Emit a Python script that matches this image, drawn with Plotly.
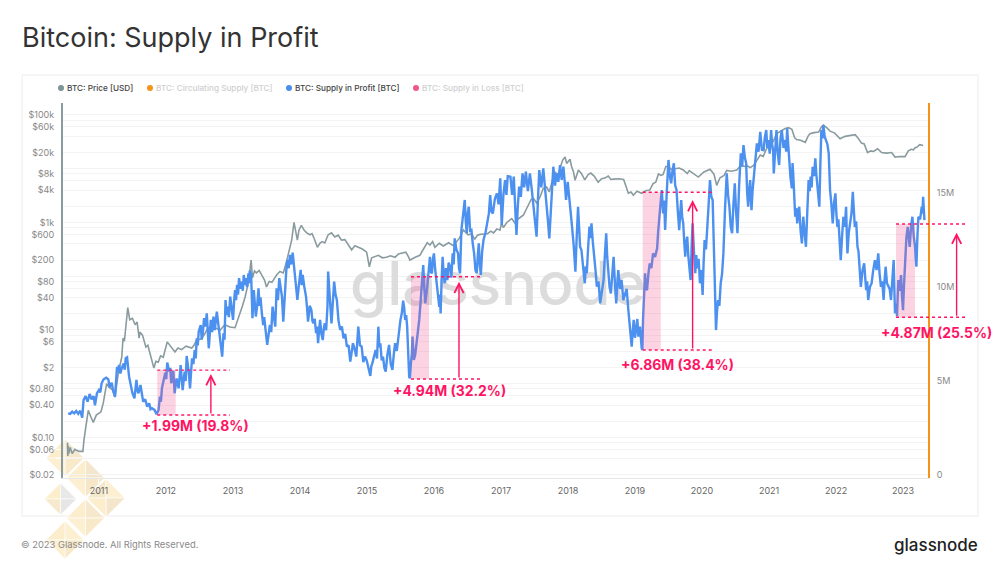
import pandas as pd
import plotly.graph_objects as go

# values: (decimal year, value)
price_usd_2010_14 = [
    (2010.53, 0.08), (2010.535, 0.045), (2010.54, 0.07), (2010.55, 0.05), (2010.57, 0.065), (2010.60, 0.05),
    (2010.64, 0.06), (2010.70, 0.055), (2010.76, 0.055), (2010.776, 0.09), (2010.816, 0.21), (2010.84, 0.32),
    (2010.88, 0.24), (2010.915, 0.19), (2010.96, 0.26), (2011.005, 0.285), (2011.03, 0.3), (2011.065, 0.44),
    (2011.09, 0.7), (2011.115, 1.0), (2011.14, 0.9), (2011.165, 0.83), (2011.20, 0.78), (2011.24, 0.56),
    (2011.29, 1.6), (2011.34, 3.1), (2011.36, 7.1), (2011.38, 6.2), (2011.40, 11), (2011.43, 26), (2011.46, 15.5),
    (2011.50, 16.5), (2011.54, 12.5), (2011.57, 14), (2011.60, 7), (2011.61, 9.1), (2011.65, 8), (2011.70, 4.8),
    (2011.73, 5.2), (2011.76, 3.7), (2011.79, 2.9), (2011.82, 1.95), (2011.85, 2.6), (2011.885, 2.5), (2011.92, 3.3),
    (2011.96, 3.1), (2012.02, 6), (2012.05, 5.3), (2012.085, 4.8), (2012.11, 4.3), (2012.135, 3.9), (2012.18, 4.6),
    (2012.235, 4.3), (2012.30, 5), (2012.385, 4.6), (2012.42, 5.2), (2012.46, 6.5), (2012.52, 6.8), (2012.57, 8),
    (2012.62, 10.5), (2012.68, 11.8), (2012.73, 11), (2012.81, 10), (2012.88, 12.5), (2012.955, 11.3),
    (2013.03, 11), (2013.06, 14), (2013.10, 21), (2013.14, 28), (2013.18, 41), (2013.23, 77), (2013.27, 200),
    (2013.29, 93), (2013.32, 125), (2013.35, 115), (2013.39, 128), (2013.43, 105), (2013.47, 85), (2013.50, 63),
    (2013.54, 80), (2013.58, 77), (2013.62, 95), (2013.65, 105), (2013.70, 122), (2013.75, 115), (2013.79, 170),
    (2013.825, 270), (2013.875, 470), (2013.91, 1000), (2013.94, 680), (2013.96, 470), (2013.985, 725),
    (2014.02, 880), (2014.06, 725), (2014.10, 640), (2014.15, 590), (2014.18, 620), (2014.21, 510), (2014.26, 345),
    (2014.30, 415), (2014.33, 440), (2014.37, 415), (2014.42, 590), (2014.47, 640), (2014.52, 535), (2014.57, 580),
    (2014.62, 470), (2014.67, 480), (2014.72, 380), (2014.77, 310), (2014.82, 370), (2014.87, 345), (2014.93, 320),
    (2014.995, 280), (2015.035, 150),
]

price_usd_2015_18 = [
    (2015.07, 220), (2015.12, 235), (2015.17, 245), (2015.23, 220), (2015.29, 225), (2015.35, 240), (2015.42, 225),
    (2015.47, 260), (2015.53, 270), (2015.58, 280), (2015.62, 230), (2015.64, 200), (2015.72, 225), (2015.79, 245),
    (2015.82, 285), (2015.85, 330), (2015.90, 420), (2015.94, 380), (2015.98, 440), (2016.015, 345), (2016.08, 410),
    (2016.14, 365), (2016.22, 420), (2016.29, 370), (2016.34, 450), (2016.38, 510), (2016.44, 725), (2016.48, 640),
    (2016.51, 590), (2016.56, 610), (2016.61, 490), (2016.65, 580), (2016.69, 600), (2016.75, 610), (2016.80, 620),
    (2016.85, 690), (2016.89, 640), (2016.94, 760), (2016.985, 720), (2017.01, 980), (2017.035, 800), (2017.085, 1000),
    (2017.16, 1180), (2017.21, 960), (2017.235, 1120), (2017.29, 1250), (2017.335, 1380), (2017.38, 1800), (2017.41, 2100),
    (2017.45, 2700), (2017.485, 2800), (2017.53, 2300), (2017.58, 2950), (2017.63, 4300), (2017.68, 4560), (2017.72, 3700),
    (2017.76, 5700), (2017.81, 8700), (2017.85, 7100), (2017.88, 10300), (2017.92, 14500), (2017.955, 16500),
    (2017.98, 12500), (2018.005, 13400), (2018.03, 15000), (2018.055, 10800), (2018.08, 8900), (2018.105, 6100),
    (2018.155, 9500), (2018.20, 8200), (2018.25, 6200),
]

price_usd_2019_23 = [
    (2018.30, 7800), (2018.34, 8300), (2018.39, 7300), (2018.45, 5600), (2018.50, 6500), (2018.55, 6700), (2018.60, 7300),
    (2018.64, 6300), (2018.68, 6400), (2018.76, 6500), (2018.83, 6300), (2018.87, 4500), (2018.90, 3500), (2018.94, 3700),
    (2018.975, 3200), (2019.03, 3800), (2019.10, 3500), (2019.16, 3900), (2019.22, 4000), (2019.27, 5300), (2019.31, 5600),
    (2019.35, 8000), (2019.39, 7500), (2019.42, 7800), (2019.46, 11000), (2019.50, 11000), (2019.54, 9800), (2019.60, 10000),
    (2019.66, 10300), (2019.72, 9500), (2019.78, 8100), (2019.81, 9200), (2019.87, 8000), (2019.945, 7000), (2020.03, 8700),
    (2020.12, 9800), (2020.18, 7900), (2020.22, 4900), (2020.27, 6800), (2020.33, 7500), (2020.37, 9300), (2020.44, 9000),
    (2020.52, 9500), (2020.58, 11500), (2020.64, 11000), (2020.67, 11500), (2020.72, 10500), (2020.77, 11500),
    (2020.815, 14000), (2020.87, 18000), (2020.915, 17000), (2020.96, 23000), (2021.015, 30000), (2021.06, 32000),
    (2021.115, 45000), (2021.17, 50000), (2021.24, 56000), (2021.29, 58000), (2021.34, 54000), (2021.38, 38000),
    (2021.41, 35000), (2021.47, 34000), (2021.54, 31000), (2021.58, 40000), (2021.61, 45000), (2021.67, 47000),
    (2021.74, 48000), (2021.78, 60000), (2021.81, 65000), (2021.86, 58000), (2021.91, 50000), (2021.98, 46000),
    (2022.06, 36000), (2022.135, 40000), (2022.2, 41000), (2022.285, 43000), (2022.33, 37000), (2022.38, 30000),
    (2022.42, 29000), (2022.47, 20000), (2022.52, 21500), (2022.56, 21000), (2022.62, 23500), (2022.68, 20000),
    (2022.75, 19500), (2022.83, 20000), (2022.88, 16500), (2022.95, 16900), (2023.03, 16800), (2023.08, 21500),
    (2023.12, 23000), (2023.155, 22500), (2023.18, 24500), (2023.205, 25000), (2023.25, 28000), (2023.30, 27000),
]

supply_in_profit_2010_14 = [
    (2010.54, 3.28), (2010.57, 3.25), (2010.60, 3.37), (2010.63, 3.28), (2010.66, 3.41), (2010.69, 3.25),
    (2010.72, 3.42), (2010.75, 3.05), (2010.77, 3.99), (2010.80, 4.2), (2010.83, 3.9), (2010.86, 4.31),
    (2010.89, 4.03), (2010.92, 4.2), (2010.94, 3.71), (2010.97, 4.35), (2011.00, 4.52), (2011.02, 4.4), (2011.04, 4.88),
    (2011.07, 5.09), (2011.11, 5.18), (2011.14, 5.09), (2011.16, 4.67), (2011.19, 4.91), (2011.21, 4.52),
    (2011.24, 4.17), (2011.27, 5.76), (2011.285, 5.5), (2011.30, 5.85), (2011.32, 5.4), (2011.34, 5.68), (2011.37, 5.94),
    (2011.385, 5.6), (2011.40, 6.21), (2011.42, 6.26), (2011.435, 5.6), (2011.45, 5.23), (2011.48, 4.70), (2011.50, 4.35),
    (2011.53, 4.08), (2011.56, 5.06), (2011.575, 4.5), (2011.59, 4.35), (2011.62, 4.79), (2011.64, 4.2), (2011.66, 3.90),
    (2011.69, 4.03), (2011.72, 3.64), (2011.75, 3.81), (2011.77, 3.5), (2011.79, 3.55), (2011.83, 3.46), (2011.86, 3.23),
    (2011.89, 3.46), (2011.91, 4.17), (2011.925, 3.9), (2011.94, 4.61), (2011.96, 4.97), (2011.99, 5.44), (2012.005, 5.1),
    (2012.02, 5.98), (2012.05, 5.5), (2012.065, 5.7), (2012.08, 4.88), (2012.11, 5.55), (2012.12, 5.0), (2012.13, 4.35),
    (2012.16, 5.14), (2012.175, 4.9), (2012.19, 4.61), (2012.22, 5.85), (2012.235, 5.0), (2012.25, 4.52), (2012.28, 5.50),
    (2012.295, 5.0), (2012.31, 6.33), (2012.34, 5.5), (2012.36, 4.61), (2012.39, 6.21), (2012.41, 5.9), (2012.43, 6.65),
    (2012.445, 6.2), (2012.46, 7.27), (2012.475, 6.9), (2012.49, 7.63), (2012.52, 7.98), (2012.535, 7.2), (2012.55, 7.54),
    (2012.57, 8.34), (2012.59, 7.9), (2012.61, 8.6), (2012.64, 6.74), (2012.67, 8.25), (2012.69, 7.6), (2012.71, 8.42),
    (2012.73, 7.71), (2012.76, 8.69), (2012.79, 7.8), (2012.82, 7.01), (2012.84, 6.3), (2012.86, 7.54), (2012.875, 7.2),
    (2012.89, 9.31), (2012.905, 8.5), (2012.92, 8.96), (2012.94, 8.4), (2012.96, 9.49), (2012.98, 8.78),
    (2013.0, 8.25), (2013.015, 9.2), (2013.03, 9.84), (2013.045, 9.3), (2013.06, 10.11), (2013.075, 9.6), (2013.09, 10.47),
    (2013.11, 9.9), (2013.13, 10.29), (2013.145, 9.8), (2013.16, 10.64), (2013.175, 10.1), (2013.19, 10.47), (2013.21, 10.0),
    (2013.23, 10.73), (2013.24, 10.2), (2013.25, 10.87), (2013.27, 10.64), (2013.29, 8.34), (2013.31, 9.84), (2013.325, 9.1),
    (2013.34, 8.43), (2013.36, 9.0), (2013.38, 9.93), (2013.395, 9.0), (2013.41, 9.45), (2013.43, 8.6), (2013.45, 7.98),
    (2013.465, 8.4), (2013.48, 7.72), (2013.495, 7.4), (2013.51, 6.92), (2013.53, 7.6), (2013.55, 7.98), (2013.57, 7.6),
    (2013.59, 8.96), (2013.61, 8.4), (2013.63, 7.89), (2013.65, 9.93), (2013.67, 9.3), (2013.69, 10.47), (2013.71, 9.8),
    (2013.73, 9.49), (2013.75, 8.16), (2013.78, 10.47), (2013.795, 10.9), (2013.81, 11.44), (2013.83, 11.0), (2013.85, 11.71),
    (2013.87, 11.2), (2013.89, 11.83), (2013.91, 11.1), (2013.93, 10.73), (2013.945, 10.0), (2013.96, 9.31), (2013.985, 10.2),
    (2014.01, 10.91), (2014.025, 10.1), (2014.04, 10.64), (2014.065, 10.0), (2014.09, 9.49), (2014.105, 8.9), (2014.12, 8.16),
    (2014.145, 9.0), (2014.17, 8.78), (2014.185, 8.2), (2014.20, 8.07), (2014.22, 8.3), (2014.24, 7.54), (2014.255, 7.9),
    (2014.27, 7.01), (2014.285, 7.7), (2014.30, 8.25), (2014.32, 7.5), (2014.34, 7.18), (2014.355, 7.8), (2014.37, 8.07),
    (2014.39, 7.7), (2014.41, 8.96), (2014.42, 10.82), (2014.435, 9.7), (2014.45, 9.14), (2014.47, 8.07), (2014.49, 9.4),
    (2014.51, 10.29), (2014.53, 9.6), (2014.55, 9.31), (2014.575, 8.2), (2014.60, 7.72), (2014.625, 7.9), (2014.65, 7.27),
    (2014.675, 7.5), (2014.70, 6.83), (2014.725, 6.9), (2014.75, 6.03), (2014.77, 6.5), (2014.79, 7.01), (2014.815, 6.7),
    (2014.84, 6.3), (2014.855, 7.1), (2014.87, 7.89), (2014.895, 6.9), (2014.92, 6.83), (2014.945, 6.0), (2014.97, 6.3),
]

supply_in_profit_2015_18 = [
    (2014.995, 6.1), (2015.02, 5.77), (2015.035, 5.5), (2015.05, 5.27), (2015.065, 5.8), (2015.08, 5.94), (2015.105, 6.3),
    (2015.13, 6.65), (2015.15, 6.2), (2015.17, 7.89), (2015.185, 6.8), (2015.20, 7.01), (2015.22, 6.1), (2015.24, 6.30),
    (2015.26, 5.7), (2015.28, 5.50), (2015.305, 6.4), (2015.33, 6.92), (2015.355, 5.9), (2015.38, 5.59), (2015.40, 6.4),
    (2015.42, 7.01), (2015.445, 6.6), (2015.47, 7.54), (2015.485, 7.9), (2015.50, 8.25), (2015.52, 8.6), (2015.54, 9.28),
    (2015.555, 8.9), (2015.57, 8.25), (2015.585, 8.5), (2015.60, 7.89), (2015.63, 5.23), (2015.64, 5.14), (2015.655, 5.9),
    (2015.67, 6.47), (2015.68, 7.36), (2015.70, 6.12), (2015.72, 6.4), (2015.74, 7.0), (2015.76, 7.6), (2015.78, 8.25),
    (2015.80, 9.2), (2015.82, 10.37), (2015.84, 11.17), (2015.855, 10.0), (2015.87, 9.13), (2015.90, 10.02), (2015.92, 11.1),
    (2015.94, 11.61), (2015.955, 10.8), (2015.97, 10.73), (2015.985, 11.5), (2016.0, 11.79), (2016.02, 10.9), (2016.04, 10.2),
    (2016.06, 9.3), (2016.08, 8.95), (2016.09, 9.6), (2016.10, 8.6), (2016.115, 10.4), (2016.13, 11.61), (2016.145, 10.7),
    (2016.16, 10.2), (2016.18, 11.0), (2016.2, 10.37), (2016.22, 11.3), (2016.24, 11.08), (2016.26, 10.5), (2016.28, 11.79),
    (2016.295, 11.2), (2016.31, 12.59), (2016.335, 12.0), (2016.36, 11.79), (2016.375, 11.0), (2016.39, 10.73), (2016.41, 13.03),
    (2016.435, 13.9), (2016.46, 14.63), (2016.475, 13.5), (2016.49, 12.86), (2016.505, 13.9), (2016.52, 14.27), (2016.54, 13.0),
    (2016.56, 13.03), (2016.58, 12.3), (2016.60, 11.79), (2016.62, 10.9), (2016.64, 10.73), (2016.655, 11.7), (2016.67, 12.32),
    (2016.685, 11.2), (2016.70, 10.64), (2016.72, 11.9), (2016.74, 12.5), (2016.77, 12.9), (2016.80, 13.39), (2016.82, 13.9),
    (2016.84, 14.89), (2016.86, 14.0), (2016.88, 13.92), (2016.91, 14.7), (2016.94, 14.98), (2016.965, 14.4), (2016.99, 15.78),
    (2017.01, 13.3), (2017.035, 14.9), (2017.06, 15.69), (2017.08, 14.9), (2017.10, 15.9), (2017.14, 15.87), (2017.165, 14.9),
    (2017.19, 15.87), (2017.21, 14.4), (2017.23, 12.77), (2017.25, 14.3), (2017.27, 15.34), (2017.295, 14.8), (2017.32, 16.05),
    (2017.345, 15.3), (2017.37, 16.14), (2017.40, 15.1), (2017.43, 16.05), (2017.455, 15.3), (2017.48, 14.45), (2017.505, 13.7),
    (2017.53, 12.68), (2017.55, 14.6), (2017.57, 16.22), (2017.60, 15.3), (2017.63, 16.31), (2017.655, 15.3), (2017.68, 14.45),
    (2017.70, 13.5), (2017.72, 12.59), (2017.75, 14.6), (2017.78, 16.4), (2017.805, 15.4), (2017.83, 16.05), (2017.855, 15.6),
    (2017.88, 16.49), (2017.905, 15.7), (2017.93, 16.4), (2017.95, 15.6), (2017.97, 14.63), (2017.995, 15.6), (2018.02, 14.8),
    (2018.04, 14.2), (2018.06, 13.21), (2018.085, 12.2), (2018.11, 10.82), (2018.13, 12.7), (2018.15, 14.27), (2018.165, 13.2),
    (2018.18, 12.14), (2018.20, 11.97), (2018.225, 11.2), (2018.25, 10.2), (2018.265, 11.1), (2018.28, 10.73), (2018.30, 12.1),
    (2018.32, 13.21), (2018.335, 12.6), (2018.35, 13.39), (2018.37, 12.4), (2018.39, 11.79), (2018.41, 10.9), (2018.43, 10.02),
    (2018.455, 10.3), (2018.48, 9.13), (2018.505, 9.9), (2018.53, 10.37), (2018.55, 11.7), (2018.57, 12.86), (2018.585, 11.6),
    (2018.60, 10.9), (2018.62, 10.0), (2018.64, 9.66), (2018.66, 10.9), (2018.68, 11.61), (2018.70, 10.2), (2018.72, 9.13),
    (2018.735, 10.1), (2018.75, 10.9), (2018.775, 9.9), (2018.80, 10.37), (2018.825, 9.3), (2018.85, 9.66), (2018.875, 9.9),
    (2018.90, 8.78), (2018.925, 7.6), (2018.95, 6.83), (2018.965, 7.6), (2018.98, 8.25),
]

supply_in_profit_2019_23 = [
    (2019.0, 7.3), (2019.02, 7.89), (2019.035, 8.3), (2019.05, 7.36), (2019.075, 7.9), (2019.10, 6.74), (2019.11, 6.65),
    (2019.12, 8.25), (2019.135, 9.4), (2019.15, 10.73), (2019.165, 9.9), (2019.18, 9.84), (2019.20, 10.7), (2019.22, 11.26),
    (2019.245, 11.0), (2019.27, 11.79), (2019.30, 11.6), (2019.33, 12.06), (2019.345, 12.9), (2019.36, 13.74), (2019.38, 14.4),
    (2019.40, 15.16), (2019.41, 14.4), (2019.42, 13.92), (2019.435, 14.6), (2019.45, 13.03), (2019.475, 15.1), (2019.50, 16.76),
    (2019.52, 15.9), (2019.54, 15.52), (2019.56, 16.2), (2019.58, 16.58), (2019.60, 15.4), (2019.62, 15.16), (2019.64, 14.0),
    (2019.66, 13.03), (2019.675, 13.9), (2019.69, 14.63), (2019.705, 13.7), (2019.72, 13.39), (2019.735, 12.4), (2019.75, 11.61),
    (2019.765, 12.4), (2019.78, 12.68), (2019.795, 11.7), (2019.81, 11.08), (2019.83, 10.37), (2019.845, 12.1), (2019.86, 13.39),
    (2019.88, 11.9), (2019.90, 10.73), (2019.915, 11.7), (2019.93, 10.99), (2019.95, 11.5), (2019.97, 10.2), (2019.99, 10.9),
    (2020.01, 9.58), (2020.025, 11.3), (2020.04, 12.5), (2020.06, 12.0), (2020.08, 13.03), (2020.10, 14.4), (2020.12, 15.69),
    (2020.14, 14.8), (2020.16, 14.63), (2020.175, 12.4), (2020.19, 10.37), (2020.21, 7.71), (2020.225, 8.7), (2020.24, 9.31),
    (2020.26, 9.0), (2020.28, 10.2), (2020.30, 10.7), (2020.32, 11.79), (2020.345, 14.2), (2020.37, 16.05), (2020.39, 14.9),
    (2020.41, 14.27), (2020.43, 13.2), (2020.45, 12.86), (2020.47, 14.4), (2020.49, 15.52), (2020.51, 14.0), (2020.53, 12.86),
    (2020.555, 15.4), (2020.58, 17.11), (2020.60, 16.4), (2020.62, 17.55), (2020.64, 16.9), (2020.66, 16.58), (2020.675, 15.0),
    (2020.69, 14.27), (2020.705, 15.2), (2020.72, 15.69), (2020.73, 14.7), (2020.74, 14.09), (2020.755, 15.1), (2020.77, 15.69),
    (2020.795, 16.9), (2020.82, 17.64), (2020.845, 17.2), (2020.87, 18.26), (2020.895, 17.3), (2020.92, 17.28), (2020.94, 18.0),
    (2020.96, 18.35), (2020.975, 17.4), (2020.99, 17.82), (2021.01, 17.1), (2021.03, 18.35), (2021.045, 17.6), (2021.06, 17.28),
    (2021.07, 16.04), (2021.09, 17.4), (2021.11, 18.35), (2021.13, 17.1), (2021.15, 16.49), (2021.17, 17.9), (2021.19, 18.35),
    (2021.215, 17.4), (2021.24, 17.82), (2021.255, 17.2), (2021.27, 18.44), (2021.285, 17.6), (2021.30, 16.58), (2021.32, 15.8),
    (2021.34, 15.25), (2021.35, 16.6), (2021.36, 16.04), (2021.375, 14.6), (2021.39, 13.74), (2021.405, 14.2), (2021.42, 13.38),
    (2021.435, 14.0), (2021.45, 14.27), (2021.47, 13.0), (2021.49, 12.32), (2021.50, 13.0), (2021.51, 13.74), (2021.53, 12.9),
    (2021.55, 12.14), (2021.57, 14.0), (2021.59, 15.69), (2021.605, 15.1), (2021.62, 15.87), (2021.635, 15.3), (2021.65, 16.4),
    (2021.67, 15.9), (2021.69, 16.84), (2021.705, 16.0), (2021.72, 15.33), (2021.735, 14.8), (2021.75, 14.27), (2021.765, 16.5),
    (2021.78, 18.35), (2021.795, 17.9), (2021.81, 18.61), (2021.83, 18.0), (2021.85, 17.82), (2021.87, 17.6), (2021.89, 17.11),
    (2021.90, 16.1), (2021.91, 15.16), (2021.93, 14.4), (2021.95, 13.38), (2021.97, 14.5), (2021.99, 14.98), (2022.005, 13.9),
    (2022.02, 13.2), (2022.035, 13.6), (2022.05, 12.67), (2022.06, 12.1), (2022.07, 11.43), (2022.09, 12.7), (2022.11, 13.74),
    (2022.13, 13.2), (2022.15, 14.27), (2022.16, 12.9), (2022.17, 11.79), (2022.19, 12.9), (2022.21, 13.56), (2022.23, 13.9),
    (2022.25, 15.07), (2022.265, 14.1), (2022.28, 13.2), (2022.30, 13.5), (2022.32, 12.14), (2022.335, 11.9), (2022.35, 11.08),
    (2022.36, 10.6), (2022.37, 10.01), (2022.395, 10.9), (2022.42, 11.26), (2022.435, 10.5), (2022.45, 9.84), (2022.465, 10.3),
    (2022.48, 9.31), (2022.505, 10.0), (2022.53, 10.19), (2022.555, 10.9), (2022.58, 11.43), (2022.605, 10.9), (2022.63, 11.79),
    (2022.65, 10.7), (2022.67, 10.01), (2022.69, 10.3), (2022.71, 9.31), (2022.725, 10.4), (2022.74, 11.08), (2022.76, 10.2),
    (2022.78, 10.01), (2022.80, 9.9), (2022.82, 9.31), (2022.84, 10.6), (2022.86, 11.43), (2022.87, 9.9), (2022.88, 8.6),
    (2022.895, 9.1), (2022.91, 8.45), (2022.92, 9.5), (2022.93, 10.37), (2022.95, 9.8), (2022.97, 10.64), (2022.985, 9.5),
    (2023.0, 8.77), (2023.015, 10.1), (2023.03, 11.43), (2023.05, 12.6), (2023.07, 13.2), (2023.085, 12.5), (2023.10, 12.14),
    (2023.12, 13.2), (2023.14, 13.74), (2023.16, 12.7), (2023.18, 12.14), (2023.19, 11.5), (2023.20, 11.08), (2023.215, 12.7),
    (2023.23, 13.74), (2023.255, 13.6), (2023.28, 14.27), (2023.29, 13.9), (2023.30, 14.8), (2023.32, 13.56),
]

price_ticks = [0.02, 0.04, 0.06, 0.08, 0.1, 0.2, 0.4, 0.6, 0.8, 1, 2, 4, 6, 8, 10, 20, 40, 60, 80, 100, 200, 400, 600,
               800, 1000, 2000, 4000, 6000, 8000, 10000, 20000, 40000, 60000, 80000, 100000]
price_labels = {0.02: "$0.02", 0.06: "$0.06", 0.1: "$0.10", 0.4: "$0.40", 0.8: "$0.80", 2: "$2", 6: "$6", 10: "$10",
                40: "$40", 80: "$80", 200: "$200", 600: "$600", 1000: "$1k", 4000: "$4k", 8000: "$8k",
                20000: "$20k", 60000: "$60k", 100000: "$100k"}
supply_ticks = [0, 5, 10, 15]
supply_labels = ["0", "5M", "10M", "15M"]
year_ticks = list(range(2011, 2024))

# the four highlighted rallies
rally_start = [2011.87, 2015.657, 2019.115, 2022.896]
rally_end = [2012.145, 2015.925, 2019.384, 2023.18]
rally_low = [3.19, 5.11, 6.65, 8.39]
rally_high = [5.58, 10.55, 15.04, 13.35]
guide_end = [2012.955, 2016.727, 2020.18, 2023.97]
arrow_year = [2012.67, 2016.373, 2019.86, 2023.80]
arrow_tip = [5.37, 10.28, 14.63, 12.89]
rally_text = ["+1.99M (19.8%)", "+4.94M (32.2%)", "+6.86M (38.4%)", "+4.87M (25.5%)"]
text_year = [2012.44, 2016.23, 2019.634, 2023.507]
text_level = [2.6, 4.45, 5.85, 7.55]

legend_names = ["BTC: Price [USD]", "BTC: Circulating Supply [BTC]", "BTC: Supply in Profit [BTC]", "BTC: Supply in Loss [BTC]"]
legend_colors = ["#7f9398", "#f7931a", "#4a8ff0", "#f0588c"]
legend_text_colors = ["#444444", "#cfcfcf", "#444444", "#cfcfcf"]
legend_dot_px = [61, 150, 289, 416]

W, H = 1000, 576
LEFT, RIGHT, TOP, BOTTOM = 63, 928, 103, 478
PINK = "#ff1464"
YEAR_MIN, YEAR_MAX = 2010.463, 2023.373
SUPPLY_MIN, SUPPLY_MAX = -0.16, 19.79


def to_date(year):
    whole = int(year)
    return pd.Timestamp(whole, 1, 1) + pd.Timedelta(days=(year - whole) * 365.25)


def px(x):
    return (x - LEFT) / (RIGHT - LEFT)


def py(y):
    return (BOTTOM - y) / (BOTTOM - TOP)


def year_paper(year):
    return (year - YEAR_MIN) / (YEAR_MAX - YEAR_MIN)


fig = go.Figure()

# watermark sits under the lines, so it goes in as the first trace
fig.add_trace(go.Scatter(x=[to_date(2016.955)], y=[56], mode="text", text=["glassnode"], showlegend=False,
                         textfont=dict(family="Inter", size=60, color="#dcdcdc", weight=500), hoverinfo="skip",
                         cliponaxis=False))

price = price_usd_2010_14 + price_usd_2015_18 + price_usd_2019_23
fig.add_trace(go.Scatter(x=[to_date(p[0]) for p in price], y=[p[1] for p in price], mode="lines",
                         name="BTC: Price [USD]", line=dict(color="#8a9b9f", width=1.6), showlegend=False))

supply = supply_in_profit_2010_14 + supply_in_profit_2015_18 + supply_in_profit_2019_23
fig.add_trace(go.Scatter(x=[to_date(p[0]) for p in supply], y=[p[1] for p in supply], mode="lines", yaxis="y2",
                         name="BTC: Supply in Profit [BTC]", line=dict(color="#4c90f0", width=2.4), showlegend=False))

shapes = [dict(type="rect", xref="paper", yref="paper", x0=px(22), x1=px(978), y0=py(516), y1=py(75),
               line=dict(color="#ececec", width=1), fillcolor="rgba(0,0,0,0)", layer="below")]

# logo diamonds in the lower left corner: centre x, centre y, half diagonal, quadrant colours
diamonds = [
    (65, 458, 19, ["#fceecd", "#f5e8cd", "#f8e9c8", "#fdf0d2"]),
    (85.5, 478, 19, ["#fceecd", "#f3e6cc", "#f6e7c8", "#fdf0d2"]),
    (106, 498, 19, ["#f6e8cb", "#fdf0d2", "#f4e6ca", "#fceecd"]),
    (85.5, 518, 19, ["#fceecd", "#f5e8cd", "#f8e9c8", "#fdf0d2"]),
    (65, 540, 19, ["#fceecd", "#fdf0d2", "#f8e9c8", "#fdf0d2"]),
    (60.5, 499, 16, ["#fdeecb", "#e8e8e8", "#e6e6e6", "#f7e9cd"]),
]
for cx, cy, r, tones in diamonds:
    tips = [(cx - r, cy), (cx, cy - r), (cx + r, cy), (cx, cy + r)]
    for i, tone in enumerate(tones):
        a, b = tips[i], tips[(i + 1) % 4]
        path = f"M{px(cx)},{py(cy)} L{px(a[0])},{py(a[1])} L{px(b[0])},{py(b[1])} Z"
        shapes.append(dict(type="path", xref="paper", yref="paper", path=path, fillcolor=tone,
                           line=dict(color="#ffffff", width=0.6), layer="below"))

annotations = []
supply_px = (BOTTOM - TOP) / (SUPPLY_MAX - SUPPLY_MIN)
for i in range(4):
    shapes.append(dict(type="rect", xref="paper", yref="y2", x0=year_paper(rally_start[i]), x1=year_paper(rally_end[i]),
                       y0=rally_low[i], y1=rally_high[i], fillcolor="rgba(245,80,140,0.25)", line=dict(width=0)))
    for level in (rally_low[i], rally_high[i]):
        shapes.append(dict(type="line", xref="paper", yref="y2", x0=year_paper(rally_start[i]),
                           x1=year_paper(guide_end[i]), y0=level, y1=level,
                           line=dict(color=PINK, width=1.4, dash="3px,3px")))
    annotations.append(dict(x=year_paper(arrow_year[i]), y=arrow_tip[i], xref="paper", yref="y2", ax=0,
                            ay=(arrow_tip[i] - rally_low[i]) * supply_px, text="", showarrow=True, arrowhead=5,
                            arrowsize=1.3, arrowwidth=1.4, arrowcolor=PINK))
    annotations.append(dict(x=year_paper(text_year[i]), y=text_level[i], xref="paper", yref="y2", text=rally_text[i],
                            xanchor="center", yanchor="middle", showarrow=False,
                            font=dict(family="Inter", size=13.9, color=PINK, weight=700)))

for name, color, tcolor, dot in zip(legend_names, legend_colors, legend_text_colors, legend_dot_px):
    shapes.append(dict(type="circle", xref="paper", yref="paper", x0=px(dot - 3), x1=px(dot + 3), y0=py(91), y1=py(85),
                       fillcolor=color, line=dict(width=0)))
    annotations.append(dict(x=px(dot + 4), y=py(88), xref="paper", yref="paper", xanchor="left", yanchor="middle",
                            text=name, showarrow=False, font=dict(family="Inter", size=8.2, color=tcolor, weight=500)))

annotations.append(dict(x=px(19), y=py(544), xref="paper", yref="paper", xanchor="left", yanchor="middle", showarrow=False,
                        text="© 2023 Glassnode. All Rights Reserved.", font=dict(family="Inter", size=9.4, color="#8a8a8a")))
annotations.append(dict(x=px(980), y=py(545), xref="paper", yref="paper", xanchor="right", yanchor="middle", showarrow=False,
                        text="glassnode", font=dict(family="Inter", size=17, color="#222222", weight=500)))

fig.update_layout(
    width=W, height=H, margin=dict(l=LEFT, r=W - RIGHT, t=TOP, b=H - BOTTOM),
    paper_bgcolor="#ffffff", plot_bgcolor="rgba(0,0,0,0)", showlegend=False,
    title=dict(text="Bitcoin: Supply in Profit", x=22 / W, xanchor="left", y=1 - 38 / H, yanchor="middle",
               font=dict(family="Inter", size=27, color="#333333")),
    font=dict(family="Inter"), shapes=shapes, annotations=annotations,
    xaxis=dict(range=[to_date(YEAR_MIN), to_date(YEAR_MAX)], tickvals=[to_date(y) for y in year_ticks],
               ticktext=[str(y) for y in year_ticks], showgrid=False, zeroline=False, showline=True,
               linecolor="#e6e6e6", linewidth=1, ticks="outside", ticklen=4, tickcolor="#ffffff",
               tickfont=dict(size=9, color="#666666")),
    yaxis=dict(type="log", range=[-1.755, 5.223], tickvals=price_ticks,
               ticktext=[price_labels.get(t, "") for t in price_ticks], showgrid=True, gridcolor="#f3f3f3",
               gridwidth=1, zeroline=False, showline=True, linecolor="#8a9b9f", linewidth=2, ticks="outside",
               ticklen=5, tickcolor="#ffffff", tickfont=dict(size=9, color="#888888")),
    yaxis2=dict(overlaying="y", side="right", range=[SUPPLY_MIN, SUPPLY_MAX], tickvals=supply_ticks,
                ticktext=supply_labels, showgrid=False, zeroline=False, showline=True, linecolor="#f7931a",
                linewidth=2, ticks="outside", ticklen=5, tickcolor="#ffffff", tickfont=dict(size=9, color="#888888")),
)

fig.write_html("out.html", config=dict(displayModeBar=False), post_script="document.body.style.margin='0';")
